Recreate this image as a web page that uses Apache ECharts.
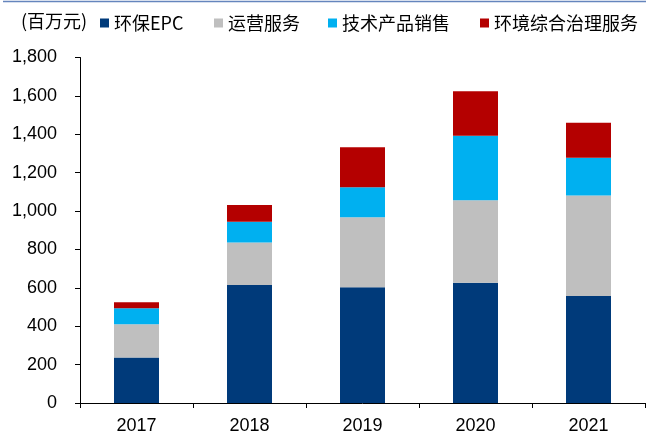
<!DOCTYPE html>
<html>
<head>
<meta charset="utf-8">
<script src="https://cdn.jsdelivr.net/npm/echarts@6/dist/echarts.min.js"></script>
<style>
html,body{margin:0;padding:0;background:#fff;}
#c{width:646px;height:437px;}
</style>
</head>
<body>
<div id="c"></div>
<script>
var categories = ['2017', '2018', '2019', '2020', '2021'];
var seriesNames = ['环保EPC', '运营服务', '技术产品销售', '环境综合治理服务'];
var epc = [237, 615, 603, 627, 557];
var operation = [173, 221, 365, 429, 524];
var techSales = [84, 108, 156, 336, 197];
var envService = [31, 88, 209, 232, 182];
var yTicks = [0, 200, 400, 600, 800, 1000, 1200, 1400, 1600, 1800];

var colors = ['#003A7A', '#BFBFBF', '#00B0F0', '#B40000'];
var values = [epc, operation, techSales, envService];
var legendLefts = [100, 214, 328, 480];

var cjk = '"Noto Sans CJK SC", "Liberation Sans", sans-serif';
var latin = '"Liberation Sans", Arial, sans-serif';

var chart = echarts.init(document.getElementById('c'), null, {renderer: 'canvas'});

var legends = seriesNames.map(function (n, i) {
  return {
    data: [n],
    left: legendLefts[i],
    top: 14,
    itemWidth: 9,
    itemHeight: 9,
    itemGap: 5,
    icon: 'rect',
    selectedMode: false,
    padding: 0,
    textStyle: {fontFamily: cjk, fontSize: 18, color: '#000', padding: [0, 0, 0, 0]}
  };
});

var option = {
  animation: false,
  backgroundColor: '#fff',
  color: colors,
  legend: legends,
  graphic: [
    {type: 'text', left: 21, top: 12, style: {text: '(百万元)', font: '18px ' + cjk, fill: '#000'}},
    {type: 'line', shape: {x1: 3, y1: 1.5, x2: 646, y2: 1.5}, style: {stroke: '#6585BD', lineWidth: 1.5}}
  ],
  grid: {left: 80, right: 1, top: 57.5, bottom: 34, containLabel: false},
  xAxis: {
    type: 'category',
    data: categories,
    axisLine: {lineStyle: {color: '#000', width: 1}},
    axisTick: {show: true, length: 5, lineStyle: {color: '#000'}},
    axisLabel: {fontFamily: latin, fontSize: 18, color: '#000', margin: 14}
  },
  yAxis: {
    type: 'value',
    min: yTicks[0],
    max: yTicks[yTicks.length - 1],
    interval: 200,
    splitLine: {show: false},
    axisLine: {show: true, lineStyle: {color: '#000', width: 1}},
    axisTick: {show: true, length: 5, lineStyle: {color: '#000'}},
    axisLabel: {
      fontFamily: latin, fontSize: 18, color: '#000', margin: 23,
      formatter: function (v) { return String(v).replace(/\B(?=(\d{3})+(?!\d))/g, ','); }
    }
  },
  series: seriesNames.map(function (n, i) {
    return {
      name: n,
      type: 'bar',
      stack: 'total',
      barWidth: 45,
      data: values[i],
      itemStyle: {color: colors[i]}
    };
  })
};
chart.setOption(option);
</script>
</body>
</html>
